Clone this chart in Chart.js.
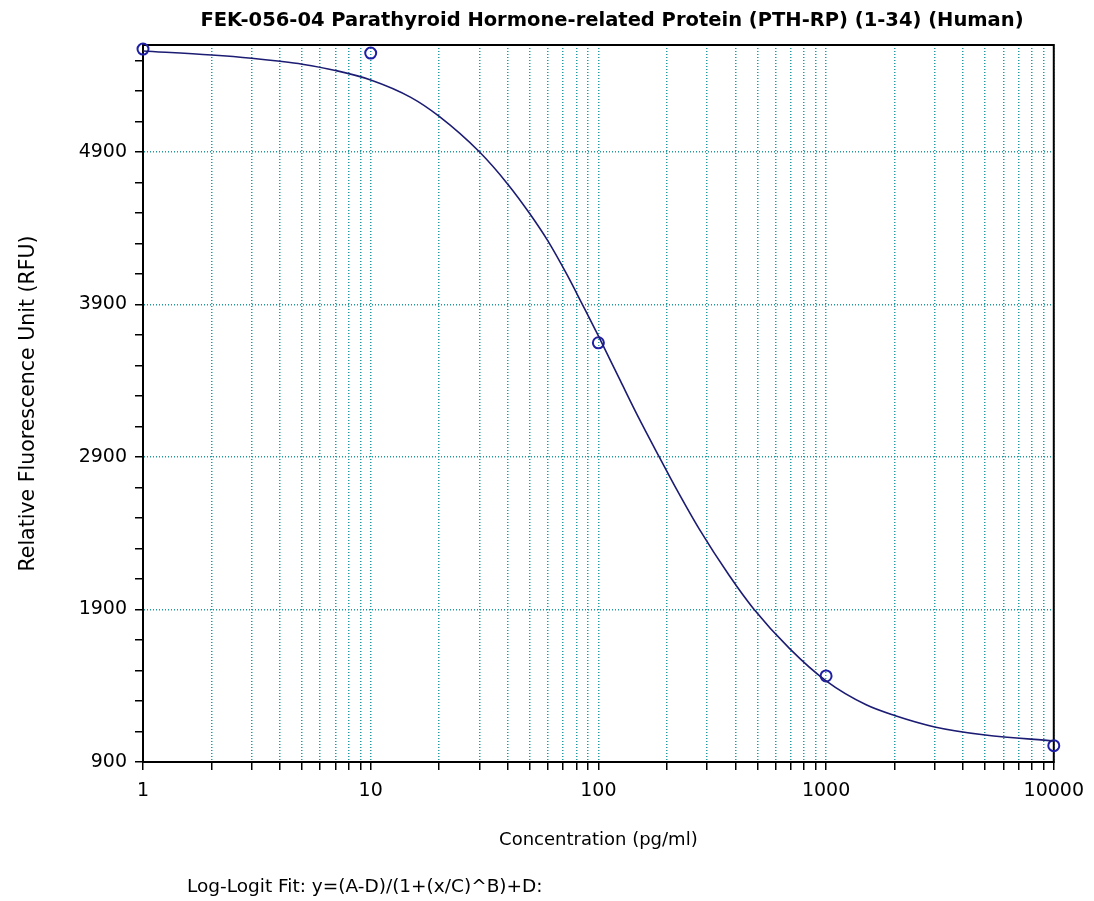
<!DOCTYPE html>
<html>
<head>
<meta charset="utf-8">
<script src="https://cdn.jsdelivr.net/npm/chart.js@4.4.1/dist/chart.umd.min.js"></script>
<style>
  html, body { margin: 0; padding: 0; background: #fff; }
</style>
</head>
<body>
<canvas id="chart" width="1094" height="901"></canvas>
<script>
// standards (measured points)
const concentration = [1, 10, 100, 1000, 10000];
const rfu = [5573, 5547, 3648, 1464, 1007];

// fitted log-logit curve
const fitConc = [1, 2, 3, 4, 5, 7, 10, 15, 20, 30, 40, 50, 60, 73, 85, 100, 125, 150, 185, 220, 277, 375, 480, 690, 1000, 1500, 2000, 3000, 5000, 10000];
const fitRfu = [5561, 5534, 5513, 5493, 5474, 5433, 5371, 5257, 5132, 4900, 4688, 4494, 4316, 4091, 3900, 3693, 3398, 3159, 2900, 2690, 2428, 2124, 1905, 1645, 1432, 1275, 1205, 1130, 1077, 1038];

// axis labels
const yLabelTicks = [900, 1900, 2900, 3900, 4900];
const xLabelTicks = [1, 10, 100, 1000, 10000];

const titleText = 'FEK-056-04 Parathyroid Hormone-related Protein (PTH-RP) (1-34) (Human)';
const footText = 'Log-Logit Fit: y=(A-D)/(1+(x/C)^B)+D:';

const gridTeal = '#1f9aa0';
const FONT = '"DejaVu Sans", sans-serif';

Chart.defaults.color = '#000';
Chart.defaults.font.family = FONT;

// frame round the plot + title and the fit note
const extras = {
    id: 'extras',
    beforeDatasetsDraw(chart) {
        const {ctx, chartArea: a} = chart;
        ctx.save();
        ctx.strokeStyle = '#000';
        ctx.lineWidth = 2;
        ctx.strokeRect(a.left, a.top, a.right - a.left, a.bottom - a.top);
        ctx.restore();
    },
    afterDraw(chart) {
        const ctx = chart.ctx;
        ctx.save();
        ctx.fillStyle = '#000';
        ctx.textBaseline = 'middle';
        ctx.textAlign = 'center';
        ctx.font = 'bold 19.5px ' + FONT;
        ctx.fillText(titleText, 612, 21);
        ctx.textAlign = 'left';
        ctx.font = '18.5px ' + FONT;
        ctx.fillText(footText, 187, 887);
        ctx.restore();
    }
};

new Chart(document.getElementById('chart'), {
    type: 'scatter',
    data: {
        datasets: [{
            label: 'fit',
            data: fitConc.map((x, i) => ({x: x, y: fitRfu[i]})),
            showLine: true,
            borderColor: '#1c1c74',
            borderWidth: 1.6,
            pointRadius: 0,
            cubicInterpolationMode: 'monotone'
        }, {
            label: 'standards',
            data: concentration.map((x, i) => ({x: x, y: rfu[i]})),
            showLine: false,
            pointRadius: 5.5,
            pointBorderWidth: 2,
            pointBorderColor: '#1f1fa6',
            pointBackgroundColor: 'rgba(0,0,0,0)',
            clip: false
        }]
    },
    options: {
        responsive: false,
        animation: false,
        layout: { padding: { top: 45, right: 39, bottom: 0, left: 0 } },
        plugins: {
            legend: { display: false },
            tooltip: { enabled: false }
        },
        scales: {
            x: {
                type: 'logarithmic',
                min: 1,
                max: 10000,
                afterFit: s => { s.height = 139; },
                afterBuildTicks: axis => {
                    const t = [];
                    for (let d = 1; d < 10000; d *= 10) {
                        for (let k = 1; k < 10; k++) t.push({value: d * k, major: k === 1});
                    }
                    t.push({value: 10000, major: true});
                    axis.ticks = t;
                },
                ticks: {
                    autoSkip: false,
                    maxRotation: 0,
                    padding: 10,
                    font: { size: 19 },
                    callback: v => xLabelTicks.includes(v) ? String(v) : ''
                },
                grid: {
                    color: gridTeal,
                    lineWidth: 1.5,
                    tickColor: '#000',
                    tickLength: 8,
                    tickWidth: 1.5
                },
                border: { color: '#000', width: 2, dash: [1, 2] },
                title: {
                    display: true,
                    text: 'Concentration (pg/ml)',
                    font: { size: 18 },
                    padding: { top: 0, bottom: 50 }
                }
            },
            y: {
                min: 900,
                max: 5600,
                afterFit: s => { s.width = 143; },
                afterBuildTicks: axis => {
                    const t = [];
                    for (let v = 900; v < 5600; v += 200) t.push({value: v});
                    axis.ticks = t;
                },
                ticks: {
                    autoSkip: false,
                    padding: 8,
                    font: { size: 19 },
                    callback: v => yLabelTicks.includes(v) ? String(v) : ''
                },
                grid: {
                    color: c => (c.tick && yLabelTicks.includes(c.tick.value)) ? gridTeal : 'rgba(0,0,0,0)',
                    lineWidth: 1.5,
                    tickColor: '#000',
                    tickLength: 8,
                    tickWidth: 1.5
                },
                border: { color: '#000', width: 2, dash: [1, 2] },
                title: {
                    display: true,
                    text: 'Relative Fluorescence Unit (RFU)',
                    font: { size: 20.5 },
                    padding: { top: 16, bottom: 0 }
                }
            }
        }
    },
    plugins: [extras]
});
</script>
</body>
</html>
